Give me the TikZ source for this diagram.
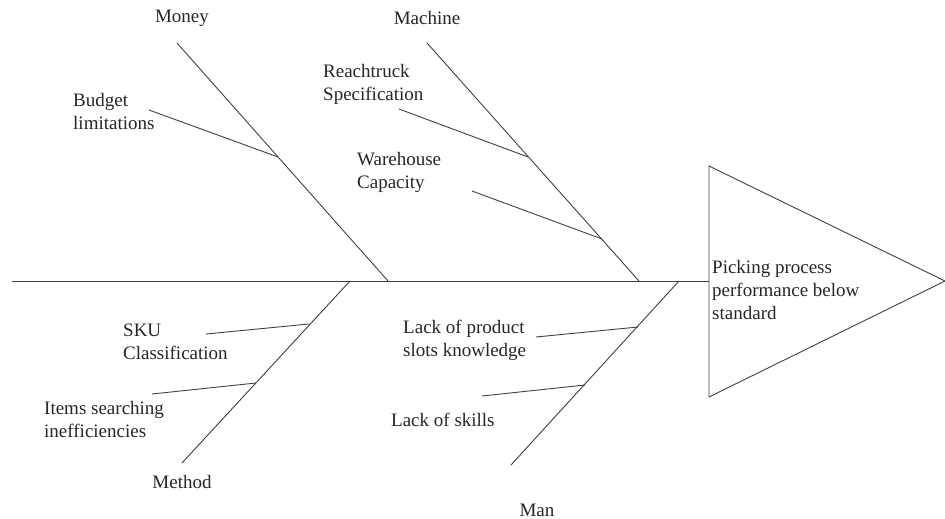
\documentclass[tikz,border=0pt]{standalone}
\usepackage{fontspec}
\setmainfont{Liberation Serif}
\newfontfamily\diagfont{Liberation Serif}
\begin{document}
\begin{tikzpicture}[x=1pt,y=-1pt,
  bone/.style={draw=black!75,line width=0.9pt},
  lbl/.style={inner sep=0pt,text=black!85,font=\diagfont\fontsize{19}{23}\selectfont,align=left},
  lblw/.style={lbl,anchor=west}]
\useasboundingbox (0,0) rectangle (945,519);
% spine and head
\coordinate (sL) at (12,281);
\coordinate (hA) at (709,166);
\coordinate (hB) at (709,397);
\coordinate (hT) at (945,281);
\coordinate (sR) at (709,281);
\draw[bone] (sL) -- (sR);
\draw[bone] (hA) -- (hT) -- (hB) -- cycle;
\node[lblw] (effect) at (712,290) {Picking process\\performance below\\standard};
% main bones
\coordinate (moT) at (177,43);  \coordinate (moB) at (388,281);
\coordinate (maT) at (427,43);  \coordinate (maB) at (639,281);
\coordinate (meT) at (350,281); \coordinate (meB) at (182,463);
\coordinate (mnT) at (679,281); \coordinate (mnB) at (511,465);
\draw[bone] (moT) -- (moB);
\draw[bone] (maT) -- (maB);
\draw[bone] (meT) -- (meB);
\draw[bone] (mnT) -- (mnB);
% sub bones
\coordinate (bu1) at (149,110); \coordinate (bu2) at (278,157);
\coordinate (re1) at (399,109); \coordinate (re2) at (528,157);
\coordinate (wa1) at (472,191); \coordinate (wa2) at (602,239);
\coordinate (sk1) at (206,334); \coordinate (sk2) at (309,324);
\coordinate (it1) at (152,394); \coordinate (it2) at (256,383);
\coordinate (lp1) at (536,337); \coordinate (lp2) at (638,327);
\coordinate (ls1) at (482,396); \coordinate (ls2) at (585,385);
\draw[bone] (bu1) -- (bu2);
\draw[bone] (re1) -- (re2);
\draw[bone] (wa1) -- (wa2);
\draw[bone] (sk1) -- (sk2);
\draw[bone] (it1) -- (it2);
\draw[bone] (lp1) -- (lp2);
\draw[bone] (ls1) -- (ls2);
% category labels
\node[lbl] (money) at (182,18) {Money};
\node[lbl] (machine) at (427,18) {Machine};
\node[lbl] (method) at (182,482) {Method};
\node[lbl] (man) at (537,510) {Man};
% cause labels
\node[lblw] (budget) at (73,111.5) {Budget\\limitations};
\node[lblw] (reach) at (323,84) {Reachtruck\\Specification};
\node[lblw] (ware) at (357,172.5) {Warehouse\\Capacity};
\node[lblw] (sku) at (123,341.5) {SKU\\Classification};
\node[lblw] (items) at (44,419) {Items searching\\inefficiencies};
\node[lblw] (lprod) at (403,340.5) {Lack of product\\slots knowledge};
\node[lblw] (lskill) at (391,420) {Lack of skills};
\end{tikzpicture}
\end{document}
